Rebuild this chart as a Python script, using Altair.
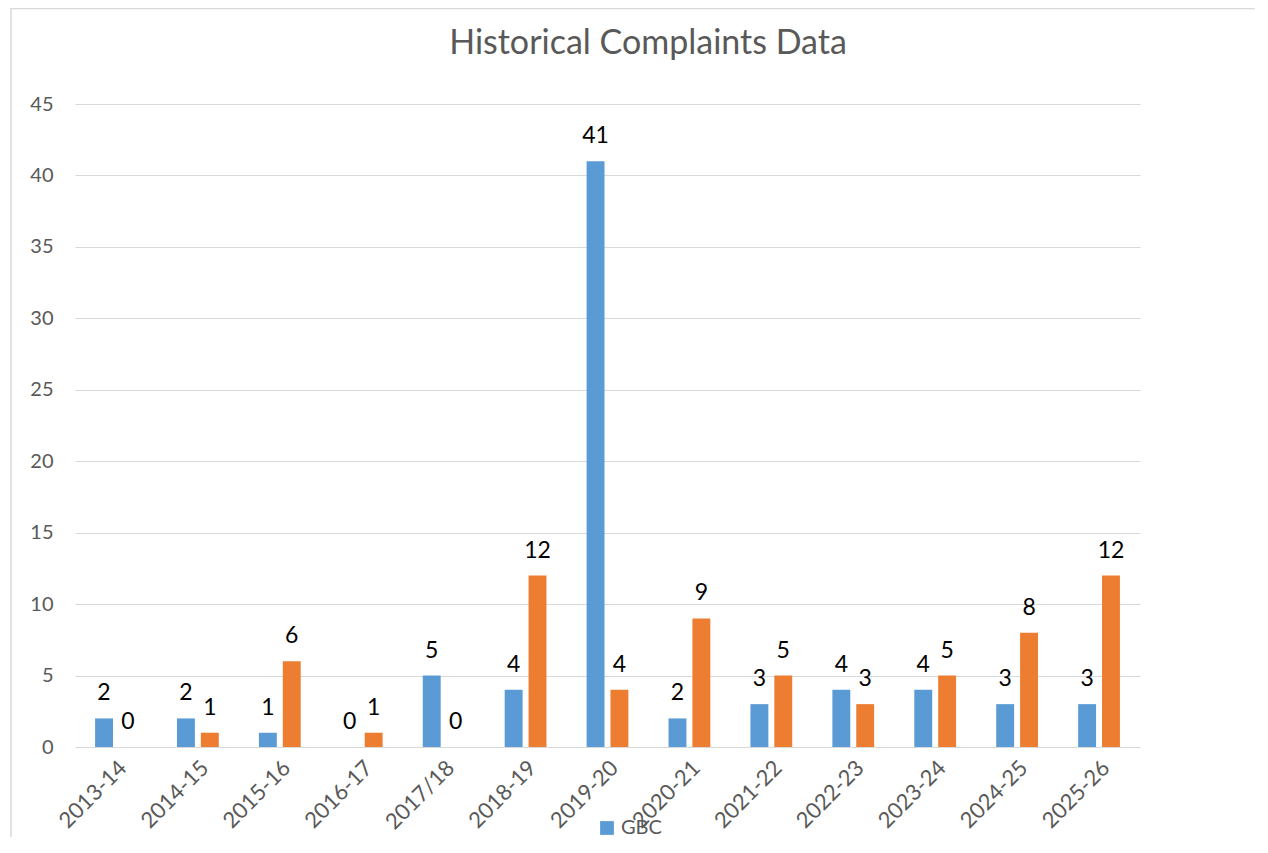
import altair as alt
import pandas as pd

years = ["2013-14", "2014-15", "2015-16", "2016-17", "2017/18", "2018-19", "2019-20",
         "2020-21", "2021-22", "2022-23", "2023-24", "2024-25", "2025-26"]
gbc = [2, 2, 1, 0, 5, 4, 41, 2, 3, 4, 4, 3, 3]
other = [0, 1, 6, 1, 0, 12, 4, 9, 5, 3, 5, 8, 12]
series = ["GBC", "Series 2"]
colors = ["#5B9BD5", "#ED7D31"]
title_text = ["Historical Complaints Data"]

rows = []
for i, y in enumerate(years):
    rows.append({"year": y, "series": series[0], "value": gbc[i]})
    rows.append({"year": y, "series": series[1], "value": other[i]})
df = pd.DataFrame(rows)

FONT = "Lato"
GREY = "#595959"

x = alt.X("year:N", sort=years, title=None,
          scale=alt.Scale(paddingInner=0.49, paddingOuter=0.245),
          axis=alt.Axis(labelAngle=-45, labelFontSize=22, labelColor=GREY, labelFont=FONT,
                        ticks=False, domain=False, labelPadding=10))
xo = alt.XOffset("series:N", sort=series, scale=alt.Scale(paddingInner=0.25, paddingOuter=0))
y = alt.Y("value:Q", title=None,
          scale=alt.Scale(domain=[0, 45], nice=False),
          axis=alt.Axis(values=list(range(0, 46, 5)), labelFontSize=20, labelColor=GREY,
                        labelFont=FONT, ticks=False, domain=False, labelPadding=22,
                        gridColor="#D9D9D9", gridWidth=1))

color = alt.Color("series:N", sort=series,
                  scale=alt.Scale(domain=series, range=colors),
                  legend=alt.Legend(values=["GBC"], title=None, orient="none",
                                    legendX=522, legendY=714, symbolType="square",
                                    symbolSize=190, symbolStrokeWidth=0, padding=0,
                                    labelFontSize=20, labelColor=GREY, labelFont=FONT,
                                    labelOffset=4, direction="horizontal"))

bars = alt.Chart(df).mark_bar().encode(x=x, xOffset=xo, y=y, color=color)
labels = alt.Chart(df).mark_text(baseline="alphabetic", dy=-18, fontSize=23, font=FONT,
                                 color="black").encode(
    x=x, xOffset=xo, y=y, text="value:Q")

title = alt.Chart(pd.DataFrame({"t": title_text})).mark_text(
    fontSize=34, font=FONT, color=GREY, baseline="alphabetic", align="center").encode(
    x=alt.value(573), y=alt.value(-50), text="t:N")

border_left = alt.Chart(pd.DataFrame({"a": [0]})).mark_rule(color="#D9D9D9", strokeWidth=1.5).encode(
    x=alt.value(-64), y=alt.value(-96), y2=alt.value(800))
border_top = alt.Chart(pd.DataFrame({"a": [0]})).mark_rule(color="#D9D9D9", strokeWidth=1.5).encode(
    x=alt.value(-64), x2=alt.value(1250), y=alt.value(-95.5))

chart = alt.layer(border_left, border_top, title, bars, labels).properties(
    width=1065, height=643,
    padding={"left": 67, "top": 96, "right": 115, "bottom": 90},
    autosize=alt.AutoSizeParams(type="none"),
).configure_view(stroke=None)

chart.save("out.html", embed_options={"renderer": "svg", "actions": False})
